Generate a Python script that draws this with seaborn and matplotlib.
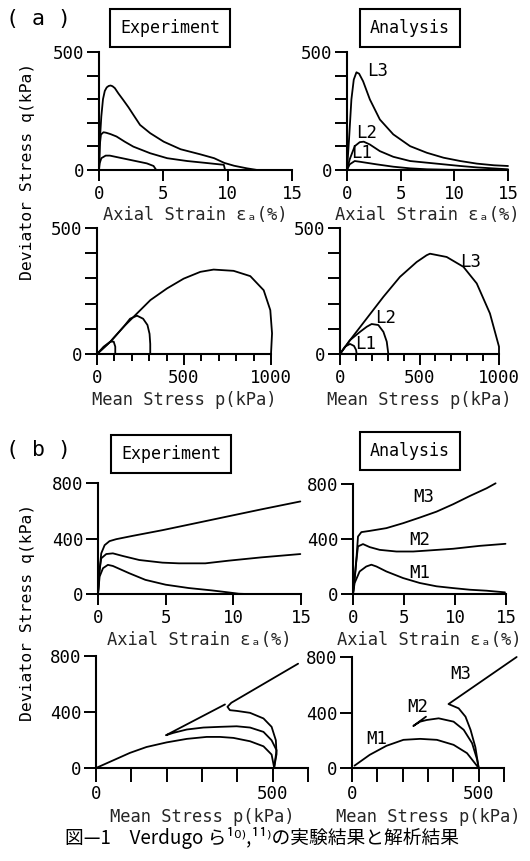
import numpy as np
import pandas as pd
import matplotlib
matplotlib.use("Agg")
import matplotlib.pyplot as plt
from matplotlib.ticker import MultipleLocator
import seaborn as sns

# ---------------- data ----------------
# (a) stress-strain, experiment
a_exp_L3_eps = [0, 0.05, 0.1, 0.18, 0.31, 0.45, 0.6, 0.75, 0.9, 1.05, 1.23, 1.5, 1.88, 2.3, 2.67, 3.19, 3.98, 5.03, 6.34, 7.9, 8.95, 9.74, 10.5, 11.5, 12.3]
a_exp_L3_q = [0, 90, 156, 227, 300, 335, 350, 356, 358, 355, 347, 325, 297, 265, 234, 191, 156, 120, 88, 66, 50, 30, 18, 7, 0]
a_exp_L2_eps = [0, 0.05, 0.15, 0.35, 0.55, 0.9, 1.36, 2.0, 2.67, 3.98, 5.3, 6.86, 8.3, 9.7, 9.8]
a_exp_L2_q = [0, 100, 150, 160, 158, 152, 142, 120, 99, 71, 50, 38, 30, 22, 0]
a_exp_L1_eps = [0, 0.05, 0.18, 0.52, 0.84, 1.62, 2.67, 3.72, 4.24, 4.45]
a_exp_L1_q = [0, 28, 50, 61, 61, 52, 40, 28, 17, 0]

# (a) stress-strain, analysis
a_ana_L3_eps = [0, 0.19, 0.41, 0.63, 0.88, 1.13, 1.5, 2.13, 3.06, 4.31, 5.88, 7.44, 9.0, 10.56, 12.1, 13.7, 15]
a_ana_L3_q = [0, 130, 299, 383, 414, 408, 376, 299, 214, 151, 101, 73, 52, 38, 27, 20, 17]
a_ana_L2_eps = [0, 0.25, 0.72, 1.19, 1.56, 2.13, 3.06, 4.31, 5.88, 7.44, 9.0, 10.56, 12.1, 15]
a_ana_L2_q = [0, 45, 101, 118, 120, 108, 80, 56, 38, 31, 24, 17, 11, 3]
a_ana_L1_eps = [0, 0.25, 0.72, 1.19, 2.75, 4.31, 5.88, 7.44, 9.5, 15]
a_ana_L1_q = [0, 24, 38, 35, 24, 14, 7, 3, 1, 0]

# (a) stress path, experiment
a_exp_L3_p = [0, 77, 153, 211, 307, 402, 498, 594, 670, 785, 881, 958, 996, 1006, 1000]
a_exp_L3_pq = [0, 49, 108, 148, 214, 260, 299, 326, 335, 330, 309, 253, 174, 82, 0]
a_exp_L2_p = [0, 77, 153, 190, 230, 265, 290, 302, 306, 306]
a_exp_L2_pq = [0, 49, 108, 140, 152, 140, 115, 80, 40, 0]
a_exp_L1_p = [0, 38, 77, 96, 105, 105]
a_exp_L1_pq = [0, 29, 49, 49, 29, 0]

# (a) stress path, analysis
a_ana_L3_p = [0, 63, 168, 273, 377, 482, 545, 566, 671, 776, 860, 943, 1000, 1000]
a_ana_L3_pq = [0, 55, 141, 227, 306, 365, 392, 398, 385, 346, 280, 161, 29, 0]
a_ana_L2_p = [0, 63, 126, 168, 199, 241, 273, 294, 304]
a_ana_L2_pq = [0, 55, 88, 108, 119, 115, 88, 49, 0]
a_ana_L1_p = [0, 31, 63, 88, 101, 105]
a_ana_L1_pq = [0, 29, 40, 32, 16, 0]

# (b) stress-strain, experiment
b_exp_M3_eps = [0, 0.12, 0.24, 0.49, 0.85, 1.34, 2.56, 4.76, 7.2, 9.63, 12.07, 14.95]
b_exp_M3_q = [0, 174, 293, 352, 381, 395, 419, 460, 510, 560, 610, 667]
b_exp_M2_eps = [0, 0.1, 0.24, 0.61, 1.1, 1.83, 3.05, 4.76, 5.98, 7.93, 9.63, 12.07, 14.95]
b_exp_M2_q = [0, 160, 257, 288, 293, 274, 245, 226, 221, 221, 240, 264, 288]
b_exp_M1_eps = [0, 0.12, 0.37, 0.73, 1.1, 2.3, 3.5, 5.0, 6.7, 8.4, 9.6, 10.4, 11.0]
b_exp_M1_q = [0, 126, 186, 210, 202, 150, 102, 67, 43, 26, 12, 2, 0]

# (b) stress-strain, analysis
b_ana_M3_eps = [0, 0.26, 0.49, 0.82, 1.64, 3.27, 4.91, 6.55, 8.19, 9.82, 11.46, 13.1, 13.98]
b_ana_M3_q = [0, 176, 418, 450, 459, 479, 515, 556, 599, 653, 713, 769, 805]
b_ana_M2_eps = [0, 0.26, 0.49, 0.98, 1.64, 2.62, 4.26, 5.9, 7.5, 9.82, 12.4, 14.95]
b_ana_M2_q = [0, 200, 346, 363, 341, 321, 309, 309, 317, 329, 350, 365]
b_ana_M1_eps = [0, 0.16, 0.65, 1.3, 1.8, 2.3, 3.27, 4.91, 6.55, 8.19, 9.82, 11.46, 13.1, 14.9]
b_ana_M1_q = [0, 80, 164, 200, 213, 200, 164, 116, 80, 56, 43, 31, 24, 12]

# (b) stress path, experiment
b_exp_M1_p = [0, 49, 96, 143, 200, 257, 313, 351, 389, 436, 474, 497, 504]
b_exp_M1_pq = [0, 55, 108, 150, 183, 208, 222, 222, 215, 191, 155, 96, 5]
b_exp_M2_p = [504, 511, 497, 474, 436, 398, 351, 304, 257, 219, 198, 365]
b_exp_M2_pq = [0, 127, 198, 258, 289, 298, 294, 289, 275, 251, 234, 454]
b_exp_M3_p = [504, 511, 509, 497, 474, 436, 398, 379, 372, 383, 572]
b_exp_M3_pq = [0, 100, 198, 294, 354, 394, 408, 413, 437, 466, 745]

# (b) stress path, analysis
b_ana_M1_p = [10, 70, 136, 203, 269, 335, 401, 454, 500]
b_ana_M1_pq = [17, 95, 160, 203, 210, 203, 167, 107, 0]
b_ana_M2_p = [500, 494, 474, 441, 401, 342, 295, 269, 242, 292]
b_ana_M2_pq = [0, 60, 179, 275, 334, 358, 346, 334, 303, 370]
b_ana_M3_p = [500, 487, 468, 448, 421, 381, 650]
b_ana_M3_pq = [0, 150, 275, 370, 430, 461, 800]

# curve labels (text, x, y)
lab_a_ss = [("L3", 2.81, 418), ("L2", 1.81, 158), ("L1", 1.34, 70)]
lab_a_pq = [("L3", 822, 365), ("L2", 287, 141), ("L1", 161, 40)]
lab_b_ss = [("M3", 6.9, 708), ("M2", 6.55, 394), ("M1", 6.55, 152)]
lab_b_pq = [("M3", 428, 680), ("M2", 258, 442), ("M1", 97, 208)]

strain_label = "Axial Strain \u03b5\u2090(%)"
stress_label = "Mean Stress p(kPa)"
q_label = "Deviator Stress q(kPa)"
caption = "図—1　Verdugo ら\u00b9\u2070\u207e,\u00b9\u00b9\u207eの実験結果と解析結果"

# ---------------- style ----------------
sns.set_theme(style="ticks")
plt.rcParams["font.family"] = ["DejaVu Sans Mono", "DejaVu Sans", "Noto Sans CJK JP"]
plt.rcParams.update({
    "axes.linewidth": 1.5,
    "axes.edgecolor": "black",
    "xtick.color": "black", "ytick.color": "black",
    "xtick.major.size": 8, "ytick.major.size": 9,
    "xtick.minor.size": 5, "ytick.minor.size": 9,
    "xtick.major.width": 1.4, "ytick.major.width": 1.4,
    "xtick.minor.width": 1.4, "ytick.minor.width": 1.4,
    "xtick.major.pad": 2.5, "ytick.major.pad": 1.5,
    "xtick.labelsize": 12.5, "ytick.labelsize": 12.5,
    "xtick.direction": "out", "ytick.direction": "out",
    "text.color": "black",
})

W, H = 530, 861
fig = plt.figure(figsize=(W / 100, H / 100), dpi=100)
fig.patch.set_facecolor("white")


def ax_at(x0, x1, ytop, ybot):
    return fig.add_axes([x0 / W, 1 - ybot / H, (x1 - x0) / W, (ybot - ytop) / H])


def draw(ax, curves):
    frames = []
    for name, xs, ys in curves:
        frames.append(pd.DataFrame({"x": xs, "y": ys, "c": name}))
    df = pd.concat(frames, ignore_index=True)
    sns.lineplot(data=df, x="x", y="y", units="c", estimator=None, sort=False,
                 color="black", lw=1.3, ax=ax, legend=False, clip_on=False)
    ax.set_facecolor("white")
    sns.despine(ax=ax)


LBL = 12.3


def finish(ax, xlabel, below_px, height_px):
    ax.set_xlabel(xlabel, fontsize=LBL, va="center")
    ax.xaxis.set_label_coords(0.5, -below_px / height_px)
    ax.set_ylabel("")


# ---- (a) stress-strain experiment
ax1 = ax_at(99, 292, 52, 170)
draw(ax1, [("L3", a_exp_L3_eps, a_exp_L3_q), ("L2", a_exp_L2_eps, a_exp_L2_q), ("L1", a_exp_L1_eps, a_exp_L1_q)])
ax1.set_xlim(0, 15); ax1.set_ylim(0, 500)
ax1.set_xticks([0, 5, 10, 15])
ax1.set_yticks([0, 100, 200, 300, 400, 500]); ax1.set_yticklabels(["0", "", "", "", "", "500"])
finish(ax1, strain_label, 45, 118)

# ---- (a) stress-strain analysis
ax2 = ax_at(347, 508, 52, 170)
draw(ax2, [("L3", a_ana_L3_eps, a_ana_L3_q), ("L2", a_ana_L2_eps, a_ana_L2_q), ("L1", a_ana_L1_eps, a_ana_L1_q)])
ax2.set_xlim(0, 15); ax2.set_ylim(0, 500)
ax2.set_xticks([0, 5, 10, 15])
ax2.set_yticks([0, 100, 200, 300, 400, 500]); ax2.set_yticklabels(["0", "", "", "", "", "500"])
finish(ax2, strain_label, 45, 118)
for t, x, y in lab_a_ss:
    ax2.text(x, y, t, fontsize=12.5, ha="center", va="center")

# ---- (a) stress path experiment
ax3 = ax_at(97, 271, 228, 354)
draw(ax3, [("L3", a_exp_L3_p, a_exp_L3_pq), ("L2", a_exp_L2_p, a_exp_L2_pq), ("L1", a_exp_L1_p, a_exp_L1_pq)])
ax3.set_xlim(0, 1000); ax3.set_ylim(0, 500)
ax3.set_xticks([0, 500, 1000]); ax3.xaxis.set_minor_locator(MultipleLocator(100))
ax3.set_yticks([0, 100, 200, 300, 400, 500]); ax3.set_yticklabels(["0", "", "", "", "", "500"])
finish(ax3, stress_label, 46, 126)

# ---- (a) stress path analysis
ax4 = ax_at(340, 499, 228, 354)
draw(ax4, [("L3", a_ana_L3_p, a_ana_L3_pq), ("L2", a_ana_L2_p, a_ana_L2_pq), ("L1", a_ana_L1_p, a_ana_L1_pq)])
ax4.set_xlim(0, 1000); ax4.set_ylim(0, 500)
ax4.set_xticks([0, 500, 1000]); ax4.xaxis.set_minor_locator(MultipleLocator(100))
ax4.set_yticks([0, 100, 200, 300, 400, 500]); ax4.set_yticklabels(["0", "", "", "", "", "500"])
finish(ax4, stress_label, 46, 126)
for t, x, y in lab_a_pq:
    ax4.text(x, y, t, fontsize=12.5, ha="center", va="center")

# ---- (b) stress-strain experiment
ax5 = ax_at(98, 301, 483, 594)
draw(ax5, [("M3", b_exp_M3_eps, b_exp_M3_q), ("M2", b_exp_M2_eps, b_exp_M2_q), ("M1", b_exp_M1_eps, b_exp_M1_q)])
ax5.set_xlim(0, 15); ax5.set_ylim(0, 800)
ax5.set_xticks([0, 5, 10, 15]); ax5.set_yticks([0, 400, 800])
finish(ax5, strain_label, 46, 111)

# ---- (b) stress-strain analysis
ax6 = ax_at(353, 506, 484, 594)
draw(ax6, [("M3", b_ana_M3_eps, b_ana_M3_q), ("M2", b_ana_M2_eps, b_ana_M2_q), ("M1", b_ana_M1_eps, b_ana_M1_q)])
ax6.set_xlim(0, 15); ax6.set_ylim(0, 800)
ax6.set_xticks([0, 5, 10, 15]); ax6.set_yticks([0, 400, 800])
finish(ax6, strain_label, 46, 110)
for t, x, y in lab_b_ss:
    ax6.text(x, y, t, fontsize=12.5, ha="center", va="center")

# ---- (b) stress path experiment
ax7 = ax_at(96, 308, 656, 768)
draw(ax7, [("M1", b_exp_M1_p, b_exp_M1_pq), ("M2", b_exp_M2_p, b_exp_M2_pq), ("M3", b_exp_M3_p, b_exp_M3_pq)])
ax7.set_xlim(0, 600); ax7.set_ylim(0, 800)
ax7.set_xticks(range(0, 601, 100)); ax7.set_xticklabels(["0", "", "", "", "", "500", ""])
ax7.set_yticks([0, 400, 800])
finish(ax7, stress_label, 49, 112)

# ---- (b) stress path analysis
ax8 = ax_at(352, 504, 657, 768)
draw(ax8, [("M1", b_ana_M1_p, b_ana_M1_pq), ("M2", b_ana_M2_p, b_ana_M2_pq), ("M3", b_ana_M3_p, b_ana_M3_pq)])
ax8.set_xlim(0, 600); ax8.set_ylim(0, 800)
ax8.set_xticks(range(0, 601, 100)); ax8.set_xticklabels(["0", "", "", "", "", "500", ""])
ax8.set_yticks([0, 400, 800])
finish(ax8, stress_label, 49, 111)
for t, x, y in lab_b_pq:
    ax8.text(x, y, t, fontsize=12.5, ha="center", va="center")

for ax in (ax1, ax2, ax3, ax4, ax5, ax6, ax7, ax8):
    ax.tick_params(axis="x", which="major", length=8)
    ax.tick_params(axis="y", which="major", length=9)
for ax in (ax7, ax8):
    ax.tick_params(axis="x", which="major", length=10)

# ---- figure texts
def ftext(x, y, s, **kw):
    fig.text(x / W, 1 - y / H, s, **kw)

box = dict(boxstyle="square,pad=0.6", fc="white", ec="black", lw=1.5)
ftext(170, 28, "Experiment", fontsize=12, ha="center", va="center", bbox=box)
ftext(410, 28, "Analysis", fontsize=12, ha="center", va="center", bbox=box)
ftext(171, 454, "Experiment", fontsize=12, ha="center", va="center", bbox=box)
ftext(410, 451, "Analysis", fontsize=12, ha="center", va="center", bbox=box)

ftext(39, 19, "( a )", fontsize=15.5, ha="center", va="center")
ftext(38, 450, "( b )", fontsize=15.5, ha="center", va="center")

ftext(28, 171, q_label, fontsize=11.8, rotation=90, ha="center", va="center")
ftext(28, 612, q_label, fontsize=11.8, rotation=90, ha="center", va="center")

fig.text(262 / W, 1 - 838 / H, caption, fontsize=13.5, ha="center", va="center",
         family=["Noto Sans CJK JP", "DejaVu Sans"])

fig.savefig("out.png", dpi=100, facecolor="white")
